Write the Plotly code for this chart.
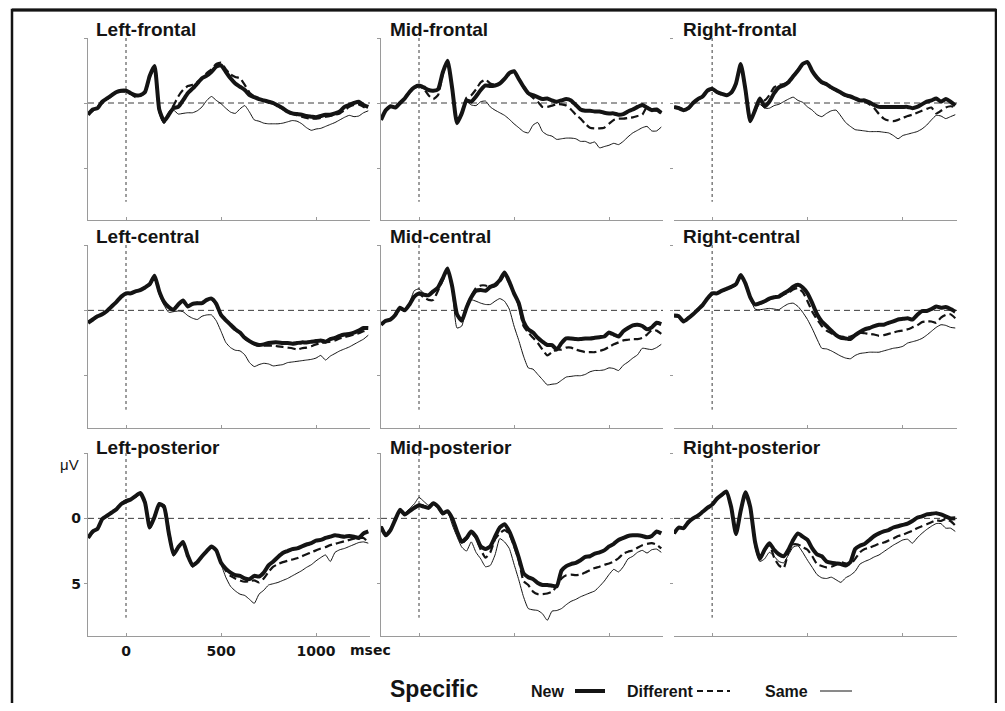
import plotly.graph_objects as go

# ---------------- data ----------------
T = [-200, -175, -150, -125, -100, -75, -50, -25, 0, 25,
     50, 75, 100, 125, 150, 175, 200, 225, 250, 275,
     300, 325, 350, 375, 400, 425, 450, 475, 500, 525,
     550, 575, 600, 625, 650, 675, 700, 725, 750, 775,
     800, 825, 850, 875, 900, 925, 950, 975, 1000, 1025,
     1050, 1075, 1100, 1125, 1150, 1175, 1200, 1225, 1250, 1275]

PANELS = ["Left-frontal", "Mid-frontal", "Right-frontal",
          "Left-central", "Mid-central", "Right-central",
          "Left-posterior", "Mid-posterior", "Right-posterior"]

X_TICKS = [0, 500, 1000]
X_TICK_TEXT = ["0", "500", "1000"]
Y_TICKS = [-5, 0, 5]
Y_TICK_TEXT = ["", "0", "5"]
LEGEND = ["New", "Different", "Same"]

LF_NEW = [0.9, 0.5, 0.4, -0.1, -0.35, -0.6, -0.85, -0.95, -0.95, -0.75,
          -0.6, -0.6, -0.85, -2.1, -2.85, 0.5, 1.4, 0.9, 0.4, 0.3,
          -0.2, -0.75, -1.1, -1.5, -1.9, -2.1, -2.4, -2.8, -2.9, -2.4,
          -1.9, -1.5, -1.25, -1.0, -0.6, -0.45, -0.3, -0.2, -0.1, 0.0,
          0.2, 0.4, 0.65, 0.8, 0.85, 0.9, 1.0, 1.05, 1.1, 1.0,
          0.9, 0.9, 0.8, 0.65, 0.3, 0.15, 0.0, -0.1, 0.15, 0.3]
LF_DIFF = [0.8, 0.6, 0.3, 0.0, -0.3, -0.55, -0.8, -0.9, -0.85, -0.7,
           -0.45, -0.55, -0.8, -2.0, -2.75, 0.6, 1.5, 0.8, 0.2, -0.5,
           -1.0, -1.3, -1.4, -1.6, -1.9, -2.3, -2.6, -3.0, -3.1, -2.6,
           -2.2, -2.0, -1.9, -1.4, -0.8, -0.5, -0.3, -0.2, -0.05, 0.05,
           0.25, 0.45, 0.7, 0.85, 0.95, 1.05, 1.15, 1.2, 1.2, 1.15,
           1.05, 1.0, 0.9, 0.8, 0.55, 0.3, 0.15, 0.1, 0.3, 0.4]
LF_SAME = [0.85, 0.55, 0.35, -0.05, -0.3, -0.55, -0.8, -0.9, -0.9, -0.7,
           -0.55, -0.6, -0.8, -1.9, -2.7, 0.8, 1.6, 0.9, 0.55, 0.85,
           0.8, 0.75, 0.75, 0.6, 0.3, -0.2, -0.5, -0.2, 0.05, 0.4,
           0.7, 0.8, 0.45, 0.2, 0.7, 1.3, 1.4, 1.55, 1.6, 1.6,
           1.6, 1.55, 1.45, 1.35, 1.4, 1.6, 1.9, 2.1, 2.0, 1.95,
           1.8, 1.65, 1.5, 1.3, 1.1, 0.95, 1.05, 1.0, 0.75, 0.6]

MF_NEW = [1.3, 0.55, 0.25, 0.35, 0.0, -0.35, -0.85, -1.2, -1.35, -1.2,
          -1.0, -0.95, -1.05, -2.35, -3.25, -1.1, 1.55, 0.8, -0.2, -0.1,
          -0.5, -1.0, -1.35, -1.3, -1.35, -1.5, -1.85, -2.3, -2.45, -1.85,
          -1.25, -0.75, -0.6, -0.45, -0.3, -0.35, -0.2, -0.1, -0.2, -0.3,
          -0.2, 0.15, 0.5, 0.6, 0.6, 0.65, 0.65, 0.75, 0.8, 0.8,
          0.9, 0.85, 0.65, 0.5, 0.3, 0.15, 0.35, 0.55, 0.5, 0.75]
MF_DIFF = [1.2, 0.6, 0.3, 0.3, 0.05, -0.3, -0.8, -1.15, -1.3, -1.1,
           -0.6, -0.3, -0.6, -2.2, -3.1, -1.0, 1.5, 0.75, -0.4, -0.6,
           -1.05, -1.6, -1.8, -1.5, -1.4, -1.5, -1.85, -2.3, -2.4, -1.9,
           -1.2, -0.7, -0.4, -0.1, 0.3, 0.3, 0.2, 0.1, 0.1, 0.2,
           0.5, 0.9, 1.2, 1.6, 1.9, 1.95, 1.95, 1.9, 1.6, 1.3,
           1.2, 1.2, 1.15, 1.1, 1.0, 0.9, 0.3, 0.5, 0.6, 0.8]
MF_SAME = [1.25, 0.6, 0.3, 0.35, 0.0, -0.3, -0.8, -1.15, -1.4, -1.25,
           -1.05, -0.95, -1.0, -2.2, -3.1, -1.1, 1.6, 0.9, -0.1, 0.15,
           0.2, -0.1, -0.15, 0.3, 0.55, 0.75, 0.95, 1.25, 1.6, 1.9,
           2.2, 2.3, 1.7, 1.5, 2.2, 2.45, 2.55, 2.8, 2.75, 2.7,
           2.7, 2.75, 2.95, 2.95, 3.1, 3.0, 3.45, 3.35, 3.25, 3.1,
           3.2, 2.95, 2.6, 2.3, 2.1, 1.9, 1.8, 2.15, 2.15, 1.85]

RF_NEW = [0.3, 0.4, 0.55, 0.4, 0.0, -0.3, -0.5, -0.95, -1.1, -0.85,
          -0.7, -0.6, -0.8, -1.5, -3.0, -1.0, 1.4, 0.55, -0.35, 0.25,
          -0.1, -0.75, -1.2, -1.35, -1.6, -2.05, -2.5, -3.0, -3.15, -2.45,
          -1.95, -1.6, -1.45, -1.2, -1.0, -0.8, -0.6, -0.5, -0.35, -0.2,
          -0.2, -0.05, 0.15, 0.3, 0.3, 0.3, 0.3, 0.3, 0.3, 0.3,
          0.4, 0.3, 0.1, -0.1, -0.2, -0.35, -0.1, -0.3, -0.1, 0.2]
RF_DIFF = [0.35, 0.35, 0.5, 0.45, 0.05, -0.25, -0.5, -0.9, -1.05, -0.8,
           -0.65, -0.6, -0.75, -1.45, -2.9, -0.9, 1.35, 0.5, -0.3, -0.2,
           -0.6, -1.2, -1.4, -1.45, -1.65, -2.1, -2.55, -3.0, -3.1, -2.4,
           -1.9, -1.55, -1.4, -1.15, -0.95, -0.75, -0.55, -0.45, -0.3, -0.15,
           -0.1, 0.1, 0.4, 0.85, 1.2, 1.35, 1.4, 1.3, 1.15, 1.0,
           0.9, 0.75, 0.6, 0.45, 0.35, 0.8, 0.6, 0.35, 0.25, 0.3]
RF_SAME = [0.3, 0.45, 0.5, 0.35, 0.0, -0.3, -0.55, -0.9, -1.1, -0.9,
           -0.7, -0.55, -0.75, -1.4, -2.9, -0.8, 1.5, 0.7, 0.1, 0.4,
           0.4, 0.2, 0.1, -0.1, -0.3, -0.45, -0.2, -0.05, 0.3, 0.55,
           0.9, 1.05, 0.8, 0.6, 0.55, 1.0, 1.5, 1.8, 2.05, 2.1,
           2.15, 2.2, 2.2, 2.2, 2.25, 2.3, 2.5, 2.75, 2.5, 2.4,
           2.3, 2.2, 2.0, 1.7, 1.3, 0.95, 1.0, 1.2, 1.05, 0.9]

LC_NEW = [0.95, 0.7, 0.45, 0.3, 0.05, -0.3, -0.65, -1.05, -1.3, -1.3,
          -1.45, -1.55, -1.75, -2.0, -2.65, -1.45, -0.65, -0.25, -0.05, -0.45,
          -0.75, -0.3, -0.5, -0.55, -0.55, -0.8, -0.9, -0.5, 0.35, 0.75,
          1.1, 1.45, 1.7, 2.1, 2.35, 2.55, 2.65, 2.6, 2.5, 2.45,
          2.45, 2.5, 2.5, 2.55, 2.5, 2.45, 2.45, 2.4, 2.35, 2.3,
          2.4, 2.2, 2.1, 1.95, 1.85, 1.8, 1.7, 1.55, 1.35, 1.35]
LC_DIFF = [0.9, 0.75, 0.5, 0.25, 0.0, -0.35, -0.6, -1.0, -1.25, -1.35,
           -1.4, -1.6, -1.7, -1.95, -2.55, -1.4, -0.6, -0.2, -0.1, -0.5,
           -0.7, -0.35, -0.45, -0.6, -0.5, -0.75, -0.85, -0.45, 0.4, 0.8,
           1.15, 1.5, 1.75, 2.15, 2.4, 2.6, 2.7, 2.7, 2.7, 2.7,
           2.75, 2.8, 2.85, 2.9, 3.0, 2.9, 2.85, 2.75, 2.6, 2.5,
           2.45, 2.4, 2.3, 2.15, 2.05, 1.95, 1.85, 1.75, 1.6, 1.5]
LC_SAME = [0.9, 0.7, 0.45, 0.3, 0.05, -0.3, -0.65, -1.05, -1.3, -1.3,
           -1.45, -1.55, -1.75, -2.0, -2.5, -1.2, -0.4, 0.15, 0.1, 0.05,
           0.1, 0.4, 0.6, 0.7, 0.45, 0.35, 0.35, 0.8, 1.6, 2.45,
           2.85, 3.05, 3.1, 3.4, 4.0, 4.3, 4.15, 4.05, 4.1, 4.25,
           4.2, 4.15, 4.0, 3.95, 3.9, 3.85, 3.8, 3.75, 3.65, 3.45,
           3.8, 3.5, 3.3, 3.1, 2.95, 2.8, 2.6, 2.4, 2.2, 1.9]

MC_NEW = [1.1, 0.8, 0.7, 0.35, -0.2, 0.0, -0.45, -1.05, -1.3, -1.2,
          -1.15, -1.45, -1.75, -2.45, -3.2, -1.8, 0.3, 0.8, -0.2, -1.0,
          -1.5, -1.55, -1.5, -1.8, -1.95, -2.3, -2.9, -2.2, -1.3, -0.55,
          0.85, 1.45, 1.7, 2.1, 2.4, 2.65, 2.65, 3.0, 2.5, 2.15,
          2.15, 2.2, 2.2, 2.15, 2.15, 2.1, 2.05, 2.0, 1.7, 1.85,
          2.0, 1.6, 1.35, 1.15, 1.1, 1.2, 1.45, 1.3, 0.95, 1.05]
MC_DIFF = [1.0, 0.85, 0.65, 0.4, -0.15, -0.05, -0.5, -1.0, -1.25, -1.0,
           -0.8, -0.8, -1.5, -2.3, -3.05, -1.7, 0.35, 0.75, -0.3, -1.1,
           -1.7, -1.9, -1.9, -1.75, -1.85, -2.15, -2.7, -2.1, -1.3, -0.4,
           1.2, 1.7, 2.1, 2.5, 3.0, 3.45, 3.2, 3.0, 3.0, 2.85,
           2.85, 3.0, 3.1, 3.2, 3.2, 3.2, 3.1, 3.0, 2.8, 2.6,
           2.45, 2.3, 2.25, 2.2, 2.2, 2.1, 1.85, 1.5, 1.55, 1.8]
MC_SAME = [1.05, 0.8, 0.65, 0.3, -0.15, -0.1, -0.6, -1.5, -1.65, -1.3,
           -1.2, -1.4, -1.7, -2.4, -3.1, -1.5, 1.35, 1.2, -0.25, -0.8,
           -0.7, -0.55, -0.45, -0.45, -0.7, -0.9, -0.7, -0.1, 1.2, 2.3,
           3.5, 4.4, 4.5, 4.9, 5.3, 5.7, 5.65, 5.6, 5.35, 5.1,
           5.05, 5.0, 5.0, 4.9, 4.7, 4.6, 4.6, 4.55, 4.4, 4.45,
           4.6, 4.2, 3.95, 3.65, 3.4, 2.9, 2.95, 3.0, 2.85, 2.6]

RC_NEW = [0.4, 0.45, 0.85, 0.6, 0.3, -0.05, -0.4, -0.9, -1.3, -1.3,
          -1.5, -1.65, -1.8, -2.0, -2.7, -2.05, -1.0, -0.45, -0.55, -0.7,
          -0.9, -1.0, -1.05, -1.3, -1.5, -1.8, -1.95, -1.75, -1.3, -0.55,
          0.3, 0.85, 1.2, 1.55, 1.9, 2.1, 2.15, 2.2, 1.9, 1.65,
          1.45, 1.35, 1.2, 1.1, 1.1, 0.95, 0.85, 0.7, 0.65, 0.6,
          0.7, 0.35, 0.05, 0.05, -0.1, -0.3, -0.2, -0.25, -0.1, 0.1]
RC_DIFF = [0.45, 0.5, 0.8, 0.55, 0.3, -0.1, -0.45, -0.9, -1.25, -1.3,
           -1.45, -1.6, -1.75, -1.95, -2.6, -2.0, -0.95, -0.4, -0.5, -0.65,
           -0.85, -0.95, -1.0, -1.2, -1.35, -1.6, -1.7, -1.4, -0.7, 0.1,
           0.7, 1.2, 1.55, 1.75, 1.95, 2.0, 2.05, 2.0, 1.85, 1.7,
           1.75, 1.8, 1.85, 1.95, 1.9, 1.8, 1.7, 1.6, 1.55, 1.45,
           1.3, 1.15, 0.9, 0.85, 0.85, 0.95, 0.55, 0.35, 0.3, 0.6]
RC_SAME = [0.4, 0.5, 0.8, 0.6, 0.25, -0.1, -0.45, -0.9, -1.3, -1.3,
           -1.5, -1.6, -1.8, -1.95, -2.65, -2.0, -0.9, -0.1, -0.05, -0.1,
           -0.15, -0.1, -0.05, -0.3, -0.5, -0.55, -0.3, 0.15, 0.7, 1.4,
           2.2, 2.9, 2.95, 3.1, 3.3, 3.5, 3.65, 3.7, 3.45, 3.3,
           3.25, 3.2, 3.2, 3.2, 3.1, 3.0, 2.9, 2.85, 2.75, 2.5,
           2.4, 2.3, 2.15, 1.9, 1.6, 1.3, 1.1, 1.15, 1.3, 1.35]

LP_NEW = [1.5, 1.0, 0.8, 0.05, -0.2, -0.45, -0.7, -1.1, -1.3, -1.45,
          -1.7, -1.95, -1.2, 0.7, -0.1, -1.1, -0.9, 1.1, 2.75, 2.2,
          1.8, 2.85, 3.6, 3.35, 2.9, 2.5, 2.15, 2.45, 3.4, 3.85,
          4.15, 4.35, 4.4, 4.6, 4.65, 4.4, 4.45, 4.15, 3.6, 3.3,
          2.95, 2.65, 2.5, 2.35, 2.3, 2.15, 2.0, 1.9, 1.7, 1.65,
          1.5, 1.4, 1.3, 1.35, 1.4, 1.35, 1.4, 1.5, 1.15, 1.0]
LP_DIFF = [1.4, 1.1, 0.75, 0.1, -0.2, -0.5, -0.75, -1.15, -1.35, -1.5,
           -1.65, -1.9, -1.3, 0.8, -0.2, -1.0, -1.0, 0.9, 2.65, 2.25,
           1.75, 2.85, 3.65, 3.35, 2.95, 2.5, 2.2, 2.5, 3.35, 4.0,
           4.4, 4.6, 4.75, 4.85, 4.8, 4.75, 4.9, 4.6, 4.1, 3.7,
           3.5, 3.35, 3.25, 3.15, 3.05, 2.9, 2.75, 2.6, 2.45, 2.3,
           2.2, 2.05, 1.95, 1.85, 1.75, 1.65, 1.55, 1.5, 1.5, 1.85]
LP_SAME = [1.5, 1.05, 0.7, 0.0, -0.25, -0.5, -0.7, -1.2, -1.45, -1.5,
           -1.6, -1.9, -1.25, 0.8, -0.05, -1.0, -0.7, 1.3, 2.9, 2.3,
           1.75, 2.9, 3.75, 3.4, 2.9, 2.5, 2.25, 2.6, 3.5, 4.5,
           5.2, 5.55, 5.8, 5.9, 6.2, 6.5, 5.8, 5.5, 5.1, 5.0,
           4.9, 4.75, 4.6, 4.4, 4.2, 4.0, 3.75, 3.55, 3.25, 3.0,
           2.8, 3.3, 2.6, 2.4, 2.3, 2.15, 2.0, 1.85, 1.8, 1.9]

MP_NEW = [0.65, 1.3, 0.9, 0.1, -0.65, -0.3, -0.55, -0.8, -1.0, -0.9,
          -0.8, -1.15, -0.9, -0.4, -0.55, 0.0, 1.0, 1.8, 1.5, 1.0,
          1.4, 2.15, 2.35, 2.15, 1.4, 0.7, 0.45, 1.0, 1.9, 3.0,
          4.2, 4.5, 4.65, 4.95, 5.1, 5.1, 5.15, 5.2, 4.0, 3.65,
          3.5, 3.4, 3.2, 2.95, 2.9, 2.7, 2.6, 2.45, 2.15, 1.95,
          1.65, 1.5, 1.35, 1.3, 1.3, 1.35, 1.45, 1.35, 1.0, 1.15]
MP_DIFF = [0.6, 1.2, 0.85, 0.15, -0.6, -0.35, -0.6, -0.85, -1.05, -0.95,
           -0.85, -1.1, -0.85, -0.3, -0.5, 0.1, 1.1, 1.9, 1.6, 1.1,
           1.5, 2.4, 3.0, 2.6, 1.6, 1.15, 0.9, 1.2, 2.1, 3.2,
           4.8, 5.1, 5.6, 5.8, 5.8, 5.75, 5.6, 5.2, 4.6, 4.35,
           4.3, 4.35, 4.3, 4.15, 3.95, 3.8, 3.7, 3.55, 3.45, 3.3,
           3.05, 2.7, 2.55, 2.45, 2.25, 2.05, 1.95, 1.9, 2.0, 2.3]
MP_SAME = [0.75, 1.35, 0.85, 0.0, -0.7, -0.4, -0.75, -1.1, -1.6, -1.3,
           -1.0, -1.2, -0.95, -0.4, -0.5, 0.5, 1.4, 2.2, 2.5, 1.8,
           2.6, 3.1, 3.7, 3.6, 2.8, 1.55, 1.8, 2.3, 3.5, 4.7,
           6.0, 6.9, 7.0, 7.05, 7.3, 7.8, 7.1, 7.05, 6.9, 6.6,
           6.35, 6.2, 6.0, 5.85, 5.7, 5.55, 5.2, 4.8, 4.3, 3.9,
           4.1, 3.7, 3.1, 2.9, 2.6, 2.45, 2.65, 2.4, 2.35, 2.6]

RP_NEW = [1.15, 0.7, 0.75, 0.3, 0.0, -0.2, -0.5, -0.8, -1.05, -1.5,
          -1.8, -2.05, -0.85, 1.2, -0.6, -2.0, -0.85, 1.8, 3.1, 2.4,
          1.9, 2.4, 2.75, 2.9, 2.4, 1.65, 1.15, 1.4, 1.65, 2.3,
          2.75, 2.9, 3.3, 3.4, 3.45, 3.5, 3.6, 3.35, 2.35, 2.1,
          1.95, 1.65, 1.35, 1.15, 1.0, 0.9, 0.7, 0.6, 0.5, 0.4,
          0.2, -0.05, -0.15, -0.3, -0.35, -0.4, -0.3, -0.15, 0.0, 0.0]
RP_DIFF = [1.1, 0.75, 0.7, 0.35, 0.05, -0.25, -0.5, -0.85, -1.1, -1.45,
           -1.75, -2.0, -0.8, 1.15, -0.55, -1.9, -0.75, 1.9, 3.05, 2.5,
           2.0, 3.0, 3.6, 3.8, 2.6, 2.0, 2.0, 2.2, 2.4, 2.9,
           3.5, 3.65, 3.75, 3.7, 3.55, 3.35, 3.45, 3.5, 3.1, 2.6,
           2.35, 2.25, 2.1, 1.95, 1.85, 1.7, 1.55, 1.35, 1.25, 1.1,
           0.95, 0.75, 0.6, 0.45, 0.3, 0.15, 0.2, 0.05, 0.2, 0.55]
RP_SAME = [1.2, 0.75, 0.7, 0.3, -0.05, -0.25, -0.55, -0.85, -1.15, -1.55,
           -1.85, -2.0, -0.8, 1.3, -0.5, -1.9, -0.6, 2.2, 3.3, 3.1,
           2.6, 2.9, 3.3, 3.4, 2.8, 2.2, 2.1, 2.6, 3.2, 3.75,
           4.3, 4.55, 4.6, 4.5, 4.7, 4.9, 4.55, 4.35, 4.05, 3.5,
           3.3, 3.15, 2.95, 2.8, 2.55, 2.3, 2.05, 1.85, 1.65, 1.6,
           1.9, 1.5, 1.15, 0.85, 0.6, 0.4, 0.4, 0.75, 0.75, 1.0]

SERIES = {
    "Left-frontal": (LF_NEW, LF_DIFF, LF_SAME),
    "Mid-frontal": (MF_NEW, MF_DIFF, MF_SAME),
    "Right-frontal": (RF_NEW, RF_DIFF, RF_SAME),
    "Left-central": (LC_NEW, LC_DIFF, LC_SAME),
    "Mid-central": (MC_NEW, MC_DIFF, MC_SAME),
    "Right-central": (RC_NEW, RC_DIFF, RC_SAME),
    "Left-posterior": (LP_NEW, LP_DIFF, LP_SAME),
    "Mid-posterior": (MP_NEW, MP_DIFF, MP_SAME),
    "Right-posterior": (RP_NEW, RP_DIFF, RP_SAME),
}

# ---------------- layout helpers ----------------
# the page body has an 8px margin, so the figure is sized to fit the window
OFF = 8
W, H = 1005 - 2 * OFF, 711 - 2 * OFF


def fx(x):
    return (x - OFF) / W


def fy(y):
    return 1 - (y - OFF) / H


COL_PX = [(88, 370), (381, 663), (674, 957)]
ROW_PX = [(38, 220), (245, 428), (453, 636)]
TITLE_X = [94, 388, 681]
TITLE_Y = [30, 236, 447]

AXIS_GREY = "#9a9a9a"
INK = "#141414"
TICK_FONT = dict(family="DejaVu Sans", size=14, color=INK, weight="bold")

fig = go.Figure()
shapes = []
annotations = []

for i, name in enumerate(PANELS):
    r, c = divmod(i, 3)
    k = i + 1
    xa = "x" if k == 1 else f"x{k}"
    ya = "y" if k == 1 else f"y{k}"
    new, diff, same = SERIES[name]

    fig.add_trace(go.Scatter(x=T, y=same, mode="lines", xaxis=xa, yaxis=ya,
                             line=dict(color=INK, width=1, shape="spline", smoothing=0.5),
                             showlegend=False, hoverinfo="skip"))
    fig.add_trace(go.Scatter(x=T, y=diff, mode="lines", xaxis=xa, yaxis=ya,
                             line=dict(color=INK, width=2.2, dash="8px,4px", shape="spline", smoothing=0.5),
                             showlegend=False, hoverinfo="skip"))
    fig.add_trace(go.Scatter(x=T, y=new, mode="lines", xaxis=xa, yaxis=ya,
                             line=dict(color=INK, width=4, shape="spline", smoothing=0.5),
                             showlegend=False, hoverinfo="skip"))

    bottom_left = (r == 2 and c == 0)
    x0p, x1p = COL_PX[c]
    y0p, y1p = ROW_PX[r]

    xkey = "xaxis" if k == 1 else f"xaxis{k}"
    ykey = "yaxis" if k == 1 else f"yaxis{k}"
    fig.layout[xkey] = dict(
        domain=[fx(x0p), fx(x1p)], anchor=ya, range=[-200, 1284],
        showgrid=False, zeroline=False, showline=True, linecolor=AXIS_GREY, linewidth=1.2,
        ticks="inside", ticklen=3, tickcolor=AXIS_GREY, tickwidth=1,
        tickvals=X_TICKS, ticktext=X_TICK_TEXT, showticklabels=bottom_left,
        tickfont=TICK_FONT, ticklabelstandoff=2, fixedrange=True)
    fig.layout[ykey] = dict(
        domain=[fy(y1p), fy(y0p)], anchor=xa, range=[9, -5],
        showgrid=False, zeroline=False, showline=(c < 2), linecolor=AXIS_GREY, linewidth=1.2,
        ticks="outside", ticklen=3, tickcolor=AXIS_GREY, tickwidth=1,
        tickvals=Y_TICKS, ticktext=Y_TICK_TEXT, showticklabels=bottom_left,
        tickfont=TICK_FONT, ticklabelstandoff=0, fixedrange=True)

    # zero reference line and stimulus-onset line
    shapes.append(dict(type="line", xref=f"{xa} domain", yref=ya, x0=0, x1=1, y0=0, y1=0,
                       line=dict(color="#3c3c3c", width=1, dash="6px,4px"), layer="below"))
    shapes.append(dict(type="line", xref=xa, yref=ya, x0=0, x1=0, y0=-5, y1=7.6,
                       line=dict(color="#3c3c3c", width=1, dash="3px,3px"), layer="below"))

    annotations.append(dict(text=name, xref="paper", yref="paper",
                            x=fx(TITLE_X[c]), y=fy(TITLE_Y[r]), xanchor="left", yanchor="middle",
                            showarrow=False,
                            font=dict(family="Liberation Sans", size=19, color=INK, weight="bold")))

# axis unit labels
annotations.append(dict(text="\u03bcV", xref="paper", yref="paper", x=fx(70), y=fy(464),
                        xanchor="center", yanchor="middle", showarrow=False,
                        font=dict(family="Liberation Sans", size=15, color=INK)))
annotations.append(dict(text="msec", xref="paper", yref="paper", x=fx(370), y=fy(650),
                        xanchor="center", yanchor="middle", showarrow=False,
                        font=dict(family="DejaVu Sans", size=14, color=INK, weight="bold")))

# bottom key
annotations.append(dict(text="Specific", xref="paper", yref="paper", x=fx(434), y=fy(689),
                        xanchor="center", yanchor="middle", showarrow=False,
                        font=dict(family="Liberation Sans", size=23, color=INK, weight="bold")))
KEY_TEXT_X = [547, 660, 786]
KEY_LINE_X = [(575, 605), (697, 730), (820, 852)]
KEY_STYLE = [dict(width=4, dash="solid"), dict(width=2.2, dash="6px,4px"), dict(width=1, dash="solid")]
for label, tx, (lx0, lx1), st in zip(LEGEND, KEY_TEXT_X, KEY_LINE_X, KEY_STYLE):
    annotations.append(dict(text=label, xref="paper", yref="paper", x=fx(tx), y=fy(691),
                            xanchor="center", yanchor="middle", showarrow=False,
                            font=dict(family="Liberation Sans", size=16, color=INK, weight="bold")))
    shapes.append(dict(type="line", xref="paper", yref="paper", x0=fx(lx0), x1=fx(lx1),
                       y0=fy(691), y1=fy(691), line=dict(color=INK, **st)))

# outer frame: sides and bottom as a rectangle, top edge as its own line just inside the figure
shapes.append(dict(type="rect", xref="paper", yref="paper", x0=fx(12), x1=fx(996),
                   y0=fy(730), y1=fy(10), line=dict(color=INK, width=2.5), fillcolor="rgba(0,0,0,0)"))
shapes.append(dict(type="line", xref="paper", yref="paper", x0=fx(12), x1=fx(996),
                   y0=fy(10), y1=fy(10), line=dict(color=INK, width=3)))

fig.update_layout(width=W, height=H, margin=dict(l=0, r=0, t=0, b=0),
                  paper_bgcolor="white", plot_bgcolor="white",
                  shapes=shapes, annotations=annotations, showlegend=False)

fig.write_html("out.html")
